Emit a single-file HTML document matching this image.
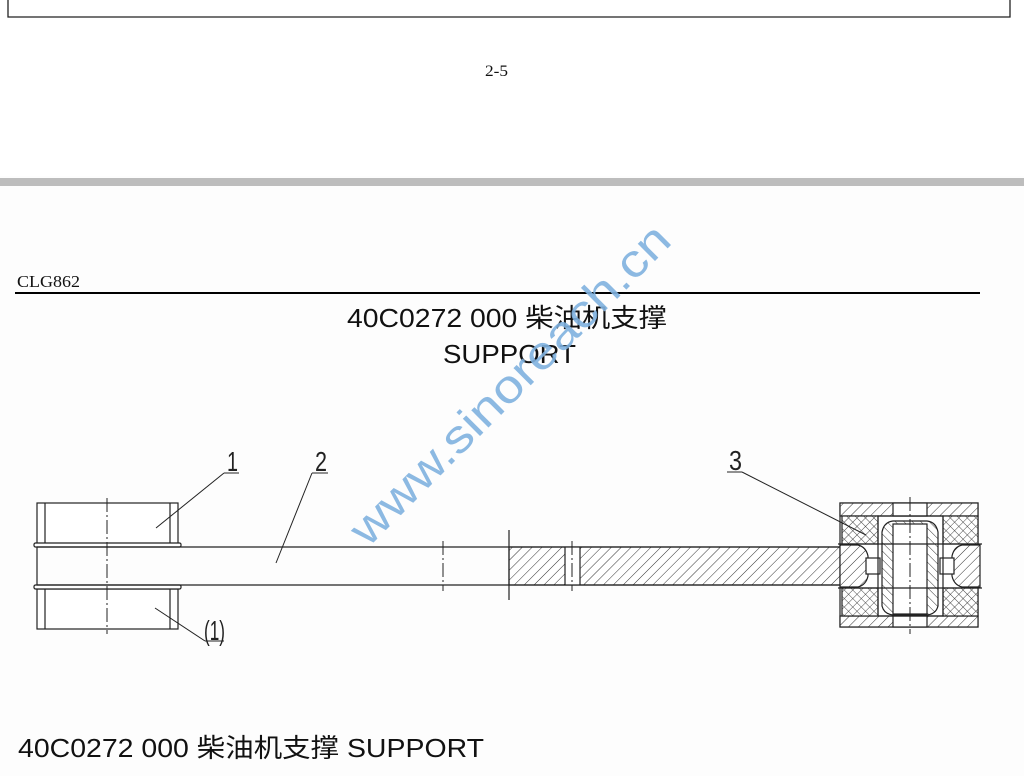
<!DOCTYPE html>
<html><head><meta charset="utf-8"><style>
html,body{margin:0;padding:0;background:#fdfdfd;}
body{width:1024px;height:776px;overflow:hidden;position:relative;}
</style></head><body>
<svg width="1024" height="776" viewBox="0 0 1024 776" xmlns="http://www.w3.org/2000/svg" style="position:absolute;left:0;top:0">
<defs>
<pattern id="h" width="7" height="7" patternUnits="userSpaceOnUse" patternTransform="rotate(45)">
<rect width="7" height="7" fill="#fff"/><line x1="0" y1="0" x2="0" y2="7" stroke="#333" stroke-width="1"/></pattern>
<pattern id="h2" width="6" height="6" patternUnits="userSpaceOnUse" patternTransform="rotate(-45)">
<rect width="6" height="6" fill="#fff"/><line x1="0" y1="0" x2="0" y2="6" stroke="#333" stroke-width="1"/></pattern>
<pattern id="x" width="6" height="6" patternUnits="userSpaceOnUse" patternTransform="rotate(45)">
<rect width="6" height="6" fill="#fff"/><line x1="0" y1="0" x2="0" y2="6" stroke="#333" stroke-width="0.9"/><line x1="0" y1="0" x2="6" y2="0" stroke="#333" stroke-width="0.9"/></pattern>
</defs>
<rect x="0" y="0" width="1024" height="176" fill="#fff"/>
<path d="M8 0 V17 H1010 V0" fill="none" stroke="#222" stroke-width="1.3"/>
<text x="485" y="76" font-family="Liberation Serif, serif" font-size="16" textLength="23" lengthAdjust="spacingAndGlyphs" fill="#111">2-5</text>
<rect x="0" y="178" width="1024" height="8" fill="#bdbdbd"/>
<text x="17" y="287" font-family="Liberation Serif, serif" font-size="17" textLength="63" lengthAdjust="spacingAndGlyphs" fill="#111">CLG862</text>
<line x1="15" y1="293" x2="980" y2="293" stroke="#000" stroke-width="2"/>
<text x="347" y="327" font-family="Liberation Sans, Noto Sans CJK SC, sans-serif" font-size="26" textLength="320" lengthAdjust="spacingAndGlyphs" fill="#111">40C0272 000 柴油机支撑</text>
<text x="443" y="363" font-family="Liberation Sans, sans-serif" font-size="26" textLength="133" lengthAdjust="spacingAndGlyphs" fill="#111">SUPPORT</text>
<g stroke="#222" stroke-width="1.2" fill="none">
<rect x="37" y="503" width="141" height="41" fill="#fff"/>
<line x1="45" y1="503" x2="45" y2="544"/><line x1="170" y1="503" x2="170" y2="544"/>
<rect x="34" y="543" width="147" height="4" rx="1.5" fill="#fff"/>
<rect x="37" y="589" width="141" height="40" fill="#fff"/>
<line x1="45" y1="589" x2="45" y2="629"/><line x1="170" y1="589" x2="170" y2="629"/>
<rect x="34" y="585" width="147" height="4" rx="1.5" fill="#fff"/>
<line x1="37" y1="547" x2="509" y2="547"/><line x1="37" y1="585" x2="509" y2="585"/>
<line x1="37" y1="547" x2="37" y2="585"/>
<rect x="509" y="547" width="335" height="38" fill="url(#h)"/>
<rect x="565" y="547" width="15" height="38" fill="#fff" stroke="none"/>
<line x1="565" y1="547" x2="565" y2="585"/><line x1="580" y1="547" x2="580" y2="585"/>
<line x1="509" y1="547" x2="844" y2="547"/><line x1="509" y1="585" x2="844" y2="585"/>
<line x1="509" y1="530" x2="509" y2="600"/>
<rect x="840" y="503" width="138" height="124" fill="#fff"/>
<rect x="840" y="503" width="138" height="13" fill="url(#h)"/>
<rect x="840" y="616" width="138" height="11" fill="url(#h)"/>
<rect x="893" y="503" width="34" height="13" fill="#fff"/>
<rect x="893" y="616" width="34" height="11" fill="#fff"/>
<rect x="842" y="516" width="36" height="28" fill="url(#x)"/>
<rect x="842" y="588" width="36" height="28" fill="url(#x)"/>
<rect x="943" y="516" width="35" height="28" fill="url(#x)"/>
<rect x="943" y="588" width="35" height="28" fill="url(#x)"/>
<path d="M840 545 H858 Q866 547 868 556 V576 Q866 585 858 587 H840 Z" fill="url(#h)"/>
<path d="M980 545 H962 Q954 547 952 556 V576 Q954 585 962 587 H980 Z" fill="url(#h)"/>
<rect x="866" y="558" width="14" height="16" fill="#fff"/>
<rect x="940" y="558" width="14" height="16" fill="#fff"/>
<path d="M878 516 H943 V616 H878 Z"/>
<path d="M882 532 Q884 522 893 521 H927 Q936 522 938 532 V606 Q936 614 927 615 H893 Q884 614 882 606 Z" fill="url(#h2)"/>
<rect x="893" y="524" width="34" height="90" fill="#fff"/>
<line x1="838" y1="544" x2="982" y2="544"/><line x1="838" y1="588" x2="982" y2="588"/>
</g>
<g stroke="#222" stroke-width="1" fill="none" stroke-dasharray="14,3,2,3">
<line x1="107" y1="498" x2="107" y2="634"/>
<line x1="443" y1="541" x2="443" y2="591"/>
<line x1="572" y1="541" x2="572" y2="591"/>
<line x1="910" y1="497" x2="910" y2="634"/>
</g>
<g stroke="#222" stroke-width="1" fill="none">
<line x1="224" y1="473" x2="239" y2="473"/><line x1="224" y1="473" x2="156" y2="528"/>
<line x1="312" y1="473" x2="328" y2="473"/><line x1="312" y1="473" x2="276" y2="563"/>
<line x1="205" y1="641" x2="224" y2="641"/><line x1="205" y1="641" x2="155" y2="608"/>
<line x1="727" y1="472" x2="742" y2="472"/><line x1="742" y1="472" x2="866" y2="535"/>
</g>
<g font-family="Liberation Sans, sans-serif" font-size="28" fill="#222">
<text x="227" y="471" textLength="11" lengthAdjust="spacingAndGlyphs">1</text>
<text x="315" y="471" textLength="12" lengthAdjust="spacingAndGlyphs">2</text>
<text x="729" y="470" textLength="13" lengthAdjust="spacingAndGlyphs">3</text>
<text x="204" y="640" textLength="21" lengthAdjust="spacingAndGlyphs">(1)</text>
</g>
<text x="368" y="548" transform="rotate(-45 368 548)" font-family="Liberation Sans, sans-serif" font-size="46" textLength="432" lengthAdjust="spacingAndGlyphs" fill="#7fb1df" fill-opacity="0.9">www.sinoreach.cn</text>
<text x="18" y="757" font-family="Liberation Sans, Noto Sans CJK SC, sans-serif" font-size="26" textLength="466" lengthAdjust="spacingAndGlyphs" fill="#111">40C0272 000 柴油机支撑 SUPPORT</text>
</svg>
</body></html>
